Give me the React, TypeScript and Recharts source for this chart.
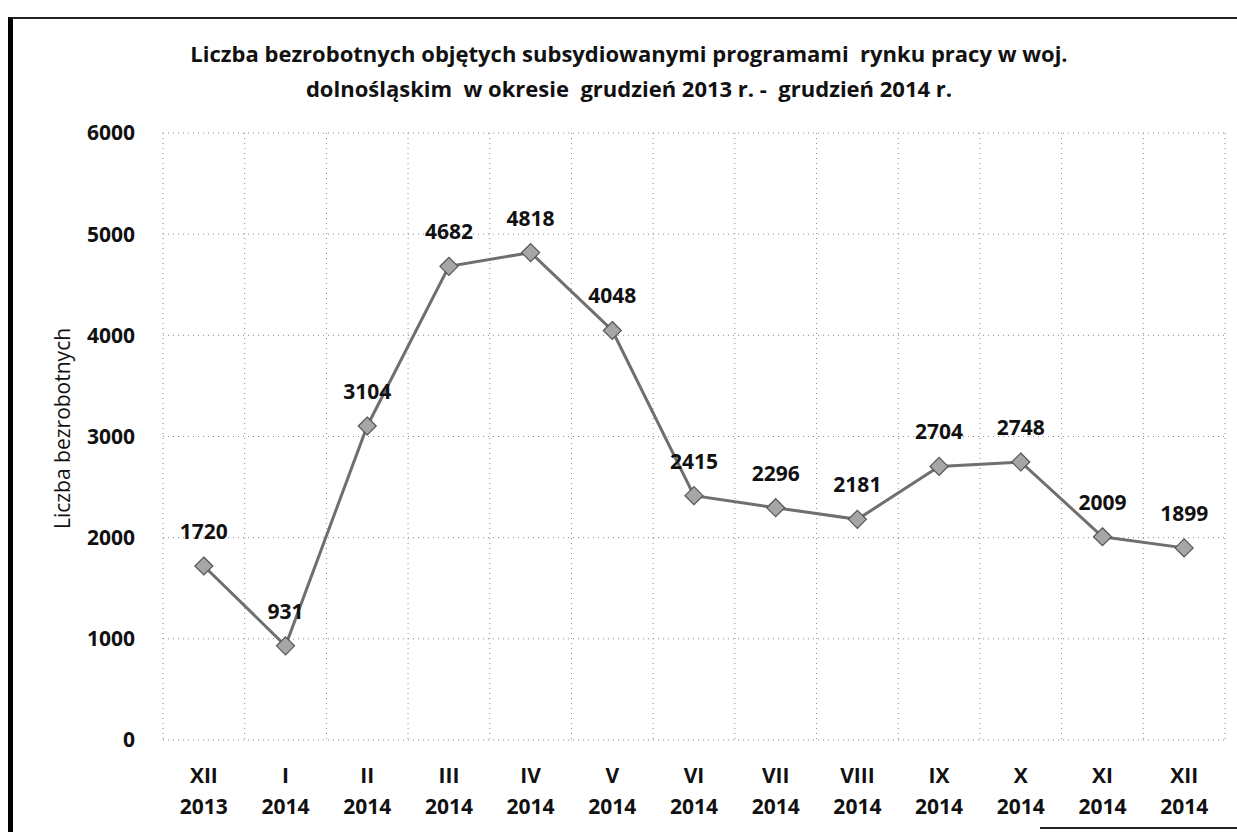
import { LineChart, Line, XAxis, YAxis, CartesianGrid, LabelList } from "recharts"

const months = ["XII", "I", "II", "III", "IV", "V", "VI", "VII", "VIII", "IX", "X", "XI", "XII"]
const years = ["2013", "2014", "2014", "2014", "2014", "2014", "2014", "2014", "2014", "2014", "2014", "2014", "2014"]
const values = [1720, 931, 3104, 4682, 4818, 4048, 2415, 2296, 2181, 2704, 2748, 2009, 1899]
const yTicks = [0, 1000, 2000, 3000, 4000, 5000, 6000]

const data = months.map((m, i) => ({ idx: i, month: m, year: years[i], value: values[i] }))

const FONT = "'Open Sans', Lato, sans-serif"

function MonthTick({ x, y, payload }: any) {
    const i = payload.index
    return (
        <g transform={`translate(${x},${y})`}>
            <text textAnchor="middle" y={35} fontSize={21} fontWeight={700} fill="#111" fontFamily={FONT}>
                {months[i]}
            </text>
            <text textAnchor="middle" y={66} fontSize={21} fontWeight={700} fill="#111" fontFamily={FONT}>
                {years[i]}
            </text>
        </g>
    )
}

function Diamond({ cx, cy }: any) {
    if (cx == null || cy == null) return null
    const r = 9
    return (
        <polygon
            points={`${cx},${cy - r} ${cx + r},${cy} ${cx},${cy + r} ${cx - r},${cy}`}
            fill="#a6a6a6"
            stroke="#555"
            strokeWidth={1.2}
        />
    )
}

function ValueLabel({ x, y, value }: any) {
    return (
        <text
            x={x}
            y={y - 27}
            textAnchor="middle"
            fontSize={21}
            fontWeight={700}
            fill="#111"
            fontFamily={FONT}
        >
            {value}
        </text>
    )
}

function AxisTitle({ viewBox }: any) {
    const x = 62
    const y = viewBox.y + viewBox.height / 2 - 8
    return (
        <text
            x={x}
            y={y}
            transform={`rotate(-90, ${x}, ${y})`}
            textAnchor="middle"
            dominantBaseline="central"
            fontSize={21}
            fontWeight={500}
            fill="#111"
            fontFamily={FONT}
        >
            Liczba bezrobotnych
        </text>
    )
}

export default function App() {
    return (
        <div
            style={{
                position: "fixed",
                left: 0,
                top: 0,
                width: 1237,
                height: 832,
                background: "#fff",
                overflow: "hidden",
                fontFamily: FONT,
            }}
        >
            <div
                style={{
                    position: "absolute",
                    left: 8,
                    top: 17,
                    width: 1240,
                    height: 830,
                    borderLeft: "5px solid #000",
                    borderTop: "2px solid #222",
                }}
            />
            <div
                style={{
                    position: "absolute",
                    left: 1040,
                    top: 827,
                    width: 200,
                    height: 2,
                    background: "#222",
                }}
            />
            <div
                style={{
                    position: "absolute",
                    left: 0,
                    top: 36,
                    width: 1258,
                    textAlign: "center",
                    fontSize: 22,
                    fontWeight: 700,
                    lineHeight: "35px",
                    color: "#111",
                    whiteSpace: "pre",
                }}
            >
                {"Liczba bezrobotnych objętych subsydiowanymi programami  rynku pracy w woj.\ndolnośląskim  w okresie  grudzień 2013 r. -  grudzień 2014 r."}
            </div>
            <div style={{ position: "absolute", left: 0, top: 0 }}>
                <LineChart
                    width={1237}
                    height={832}
                    data={data}
                    margin={{ top: 133, right: 12, left: 68, bottom: 22 }}
                >
                    <CartesianGrid
                        stroke="#8a8a8a"
                        strokeDasharray="1 4"
                        verticalCoordinatesGenerator={({ offset }: any) =>
                            Array.from({ length: months.length + 1 }, (_, i) => offset.left + (i * offset.width) / months.length)
                        }
                    />
                    <XAxis
                        dataKey="idx"
                        type="category"
                        height={70}
                        axisLine={false}
                        tickLine={false}
                        interval={0}
                        tick={<MonthTick />}
                        padding={{ left: 1062 / 26, right: 1062 / 26 }}
                    />
                    <YAxis
                        width={95}
                        domain={[0, 6000]}
                        ticks={yTicks}
                        axisLine={false}
                        tickLine={false}
                        tickMargin={22}
                        tick={{ fontSize: 21, fontWeight: 700, fill: "#111", fontFamily: FONT }}
                        label={<AxisTitle />}
                    />
                    <Line
                        dataKey="value"
                        stroke="#6f6f6f"
                        strokeWidth={3}
                        dot={<Diamond />}
                        activeDot={false}
                        isAnimationActive={false}
                    >
                        <LabelList dataKey="value" content={<ValueLabel />} />
                    </Line>
                </LineChart>
            </div>
        </div>
    )
}
